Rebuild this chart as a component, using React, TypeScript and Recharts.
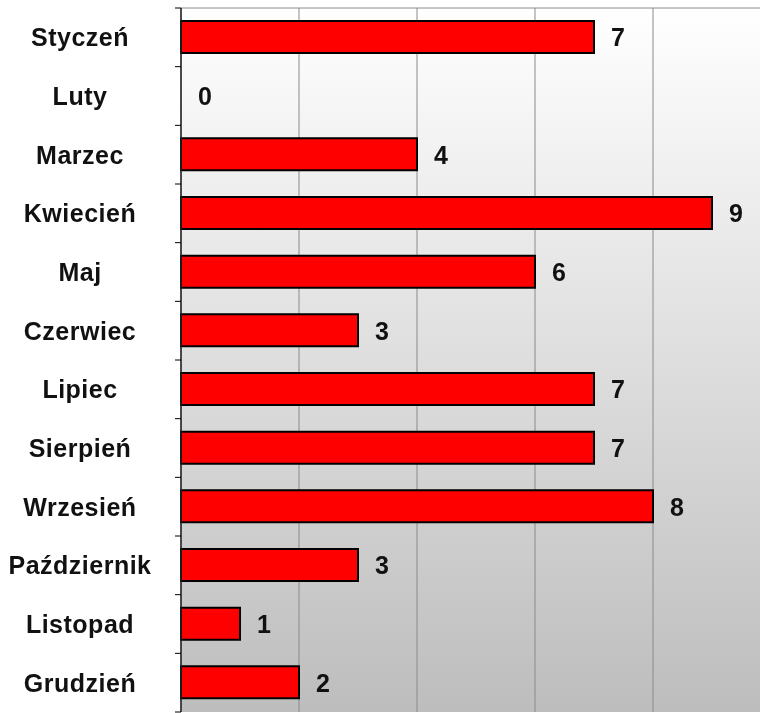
import React from "react";
import { ComposedChart, Bar, Line, XAxis, YAxis, CartesianGrid, LabelList } from "recharts";

const months = ["Styczeń", "Luty", "Marzec", "Kwiecień", "Maj", "Czerwiec", "Lipiec", "Sierpień", "Wrzesień", "Październik", "Listopad", "Grudzień"];
const counts = [7, 0, 4, 9, 6, 3, 7, 7, 8, 3, 1, 2];
const xTicks = [0, 2, 4, 6, 8, 10];

const data = months.map((m, i) => ({ month: m, value: counts[i] }));

const CHART_W = 783;
const CHART_H = 710;
const MARGIN = { top: 1, right: 20, bottom: 5, left: 0 };
const PLOT_H = CHART_H - MARGIN.top - MARGIN.bottom;
const BAND = PLOT_H / months.length;
const FONT = "'Liberation Sans', Arial, sans-serif";

const MonthTick = (props: any) => {
  const { x, y, payload, index } = props;
  const axisX = x + 8;
  const isLast = index === months.length - 1;
  return (
    <g>
      <line x1={axisX - 6} x2={axisX} y1={y - BAND / 2} y2={y - BAND / 2} stroke="#000" strokeWidth={1} />
      {isLast ? <line x1={axisX - 6} x2={axisX} y1={y + BAND / 2} y2={y + BAND / 2} stroke="#000" strokeWidth={1} /> : null}
      <text
        x={72}
        y={y}
        textAnchor="middle"
        dominantBaseline="central"
        fontFamily={FONT}
        fontWeight="bold"
        fontSize={25}
        letterSpacing={0.5}
        fill="#111"
      >
        {payload.value}
      </text>
    </g>
  );
};

const ValueLabel = (props: any) => {
  const { x, y, value } = props;
  return (
    <text
      x={Number(x) + 17}
      y={Number(y)}
      textAnchor="start"
      dominantBaseline="central"
      fontFamily={FONT}
      fontWeight="bold"
      fontSize={25}
      fill="#111"
    >
      {value}
    </text>
  );
};

export default function App() {
  return (
    <div style={{ position: "fixed", top: 7, left: 8, width: 752, height: 706, overflow: "hidden" }}>
      <ComposedChart width={CHART_W} height={CHART_H} data={data} layout="vertical" margin={MARGIN} barSize={32}>
        <defs>
          <linearGradient id="bg" x1="0" y1="0" x2="0" y2="1">
            <stop offset="0%" stopColor="#ffffff" />
            <stop offset="100%" stopColor="#bdbdbd" />
          </linearGradient>
        </defs>
        <CartesianGrid
          stroke="#8a8a8a"
          strokeWidth={1}
          fill="url(#bg)"
          fillOpacity={1}
          horizontalCoordinatesGenerator={({ offset }: any) => [offset.top]}
        />
        <XAxis type="number" dataKey="value" domain={[0, 10]} ticks={xTicks} hide />
        <YAxis
          type="category"
          dataKey="month"
          width={173}
          axisLine={{ stroke: "#222", strokeWidth: 1.5 }}
          tickLine={false}
          tick={<MonthTick />}
          interval={0}
        />
        <Bar dataKey="value" fill="#ff0000" stroke="#000" strokeWidth={2} isAnimationActive={false} />
        <Line dataKey="value" stroke="none" dot={false} activeDot={false} isAnimationActive={false}>
          <LabelList dataKey="value" content={<ValueLabel />} />
        </Line>
      </ComposedChart>
    </div>
  );
}
